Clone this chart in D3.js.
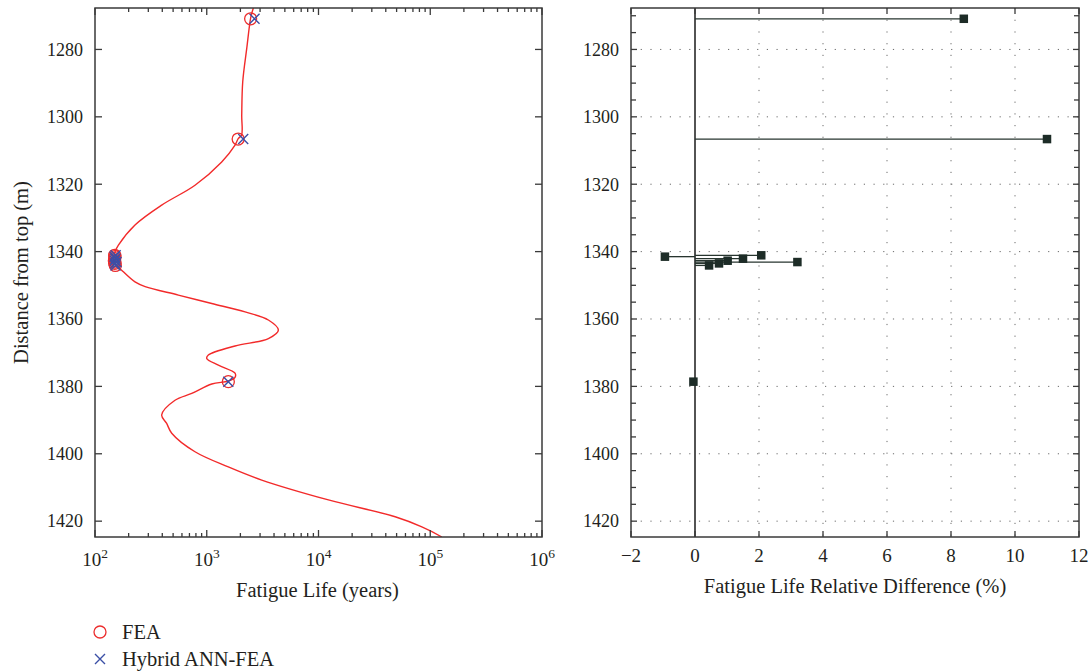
<!DOCTYPE html>
<html>
<head>
<meta charset="utf-8">
<script src="https://cdn.jsdelivr.net/npm/d3@7"></script>
<style>
  html, body { margin: 0; padding: 0; background: #fff; }
  svg text { font-family: "Liberation Serif", "Times New Roman", serif; fill: #231f20; }
</style>
</head>
<body>
<svg id="chart" width="1092" height="671"></svg>
<script>
// FEA fatigue-life profile along the riser (depth in m, life in years)
const curveDepth = [1267.7, 1270.5, 1279.7, 1289.6, 1299.5, 1305.4, 1306.4, 1308.4, 1313.4, 1320.3,
  1326.2, 1332.1, 1338.1, 1340.1, 1343.5, 1345.5, 1349.0, 1350.4, 1352.9, 1355.4,
  1357.9, 1360.3, 1363.3, 1365.8, 1368.0, 1370.7, 1371.7, 1373.7, 1376.1, 1377.3,
  1378.4, 1379.3, 1382.1, 1384.1, 1388.5, 1391.0, 1393.9, 1399.4, 1403.9, 1407.8,
  1413.7, 1418.7, 1421.7, 1424.7];
const curveLife = [2612, 2477, 2280, 2099, 2056, 2050, 1919, 1791, 1361, 785,
  395, 228, 162, 151, 151, 173, 228, 281, 557, 1109,
  2203, 3560, 4375, 3560, 1791, 1033, 1000, 1271, 1791, 1791,
  1560, 1109, 734, 520, 395, 438, 486, 785, 1560, 3105,
  12270, 48530, 84100, 127000];

// Sampled locations: FEA vs hybrid ANN-FEA
const sampleDepth = [1270.9, 1306.6, 1341.1, 1341.5, 1342.1, 1342.7, 1343.1, 1343.5, 1344.1, 1378.6];
const lifeFEA     = [2470, 1910, 150, 151, 150, 149, 151, 150, 152, 1560];
const lifeHybrid  = [2677, 2120, 153.1, 149.6, 152.3, 150.5, 155.8, 151.1, 152.7, 1559];
const relDiff     = [8.4, 11.0, 2.07, -0.94, 1.5, 1.02, 3.2, 0.75, 0.44, -0.05];

// Axis ticks
const depthTicks = [1280, 1300, 1320, 1340, 1360, 1380, 1400, 1420];
const depthMinorTicks = d3.range(1270, 1425, 5);
const lifeDecades = [2, 3, 4, 5, 6];
const diffTicks = [-2, 0, 2, 4, 6, 8, 10, 12];

const svg = d3.select("#chart");
const yTop = 8, yBot = 537;
const L = { x0: 95, x1: 542 };
const R = { x0: 631, x1: 1079 };
const frameColor = "#3a3a3a";
const fontSize = 18;
const titleSize = 20.5;

const y = d3.scaleLinear().domain([1267.7, 1424.7]).range([yTop, yBot]);
const xLog = d3.scaleLog().domain([1e2, 1e6]).range([L.x0, L.x1]);
const xDiff = d3.scaleLinear().domain([-2, 12]).range([R.x0, R.x1]);

// ---------- Left panel: fatigue life ----------
const left = svg.append("g");

const lineGen = d3.line()
  .x((d, i) => xLog(curveLife[i]))
  .y(d => y(d))
  .curve(d3.curveCatmullRom.alpha(0.5));

left.append("defs").append("clipPath").attr("id", "clipL")
  .append("rect").attr("x", L.x0).attr("y", yTop).attr("width", L.x1 - L.x0).attr("height", yBot - yTop);

left.append("path")
  .datum(curveDepth)
  .attr("clip-path", "url(#clipL)")
  .attr("d", lineGen)
  .attr("fill", "none")
  .attr("stroke", "#f22a2a")
  .attr("stroke-width", 1.4);

// FEA circles
left.selectAll("circle.fea").data(sampleDepth).join("circle")
  .attr("class", "fea")
  .attr("cx", (d, i) => xLog(lifeFEA[i]))
  .attr("cy", d => y(d))
  .attr("r", 6)
  .attr("fill", "none")
  .attr("stroke", "#ec2d2d")
  .attr("stroke-width", 1.3);

// Hybrid crosses
const cross = (g, cx, cy, s) => {
  g.append("path")
    .attr("d", `M${cx - s},${cy - s}L${cx + s},${cy + s}M${cx - s},${cy + s}L${cx + s},${cy - s}`)
    .attr("stroke", "#3b4fa6").attr("stroke-width", 1.4).attr("fill", "none");
};
sampleDepth.forEach((d, i) => cross(left, xLog(lifeHybrid[i]), y(d), 5));

// Frame and ticks (left)
function frame(g, x0, x1) {
  g.append("rect").attr("x", x0).attr("y", yTop).attr("width", x1 - x0).attr("height", yBot - yTop)
    .attr("fill", "none").attr("stroke", frameColor).attr("stroke-width", 1.5);
}
frame(left, L.x0, L.x1);

const tk = (g, x1_, y1_, x2_, y2_) => g.append("line")
  .attr("x1", x1_).attr("y1", y1_).attr("x2", x2_).attr("y2", y2_)
  .attr("stroke", frameColor).attr("stroke-width", 1.3);

// log x ticks
lifeDecades.forEach(e => {
  const xv = xLog(Math.pow(10, e));
  tk(left, xv, yBot, xv, yBot - 7);
  tk(left, xv, yTop, xv, yTop + 7);
  if (e < 6) {
    for (let m = 2; m <= 9; m++) {
      const xm = xLog(m * Math.pow(10, e));
      tk(left, xm, yBot, xm, yBot - 4);
      tk(left, xm, yTop, xm, yTop + 4);
    }
  }
  const t = left.append("text")
    .attr("x", xv).attr("y", 566)
    .attr("text-anchor", "middle")
    .attr("font-size", 19);
  t.append("tspan").text("10");
  t.append("tspan").text(e).attr("font-size", 13.5).attr("dy", -8);
});

depthTicks.forEach(d => {
  tk(left, L.x0, y(d), L.x0 + 7, y(d));
  tk(left, L.x1, y(d), L.x1 - 7, y(d));
  left.append("text").attr("x", L.x0 - 12).attr("y", y(d)).attr("dy", "0.35em")
    .attr("text-anchor", "end").attr("font-size", fontSize).text(d);
});

left.append("text").attr("x", (L.x0 + L.x1) / 2 - 1).attr("y", 597)
  .attr("text-anchor", "middle").attr("font-size", titleSize).text("Fatigue Life (years)");

left.append("text")
  .attr("transform", `translate(28,${(yTop + yBot) / 2}) rotate(-90)`)
  .attr("text-anchor", "middle").attr("font-size", titleSize).text("Distance from top (m)");

// ---------- Right panel: relative difference ----------
const right = svg.append("g");

// dotted grid
diffTicks.filter(v => v !== 0 && v !== -2 && v !== 12).forEach(v => {
  right.append("line").attr("x1", xDiff(v)).attr("x2", xDiff(v)).attr("y1", yTop).attr("y2", yBot)
    .attr("stroke", "#6a6a6a").attr("stroke-width", 1).attr("stroke-dasharray", "1.2,10.5");
});
depthTicks.forEach(d => {
  right.append("line").attr("x1", R.x0).attr("x2", R.x1).attr("y1", y(d)).attr("y2", y(d))
    .attr("stroke", "#6a6a6a").attr("stroke-width", 1).attr("stroke-dasharray", "1.2,8.5");
});

// zero baseline
right.append("line").attr("x1", xDiff(0)).attr("x2", xDiff(0)).attr("y1", yTop).attr("y2", yBot)
  .attr("stroke", "#1a1a1a").attr("stroke-width", 1.5);

// stems
right.selectAll("line.stem").data(sampleDepth).join("line")
  .attr("class", "stem")
  .attr("x1", xDiff(0)).attr("x2", (d, i) => xDiff(relDiff[i]))
  .attr("y1", d => y(d)).attr("y2", d => y(d))
  .attr("stroke", "#27352f").attr("stroke-width", 1.3);

// square markers
const sq = 8.5;
right.selectAll("rect.mk").data(sampleDepth).join("rect")
  .attr("class", "mk")
  .attr("x", (d, i) => xDiff(relDiff[i]) - sq / 2)
  .attr("y", d => y(d) - sq / 2)
  .attr("width", sq).attr("height", sq)
  .attr("fill", "#1d2c27");

frame(right, R.x0, R.x1);

diffTicks.forEach(v => {
  const xv = xDiff(v);
  tk(right, xv, yBot, xv, yBot - 6);
  tk(right, xv, yTop, xv, yTop + 6);
  right.append("text").attr("x", xv).attr("y", 562)
    .attr("text-anchor", "middle").attr("font-size", 19)
    .text(v < 0 ? "\u2212" + Math.abs(v) : v);
});

depthMinorTicks.forEach(d => {
  const len = depthTicks.includes(d) ? 6 : 5;
  tk(right, R.x0, y(d), R.x0 + len, y(d));
  tk(right, R.x1, y(d), R.x1 - len, y(d));
});
depthTicks.forEach(d => {
  right.append("text").attr("x", R.x0 - 12).attr("y", y(d)).attr("dy", "0.35em")
    .attr("text-anchor", "end").attr("font-size", fontSize).text(d);
});

right.append("text").attr("x", (R.x0 + R.x1) / 2).attr("y", 593)
  .attr("text-anchor", "middle").attr("font-size", titleSize).text("Fatigue Life Relative Difference (%)");

// ---------- Legend ----------
const legend = svg.append("g");
legend.append("circle").attr("cx", 100).attr("cy", 632).attr("r", 6)
  .attr("fill", "none").attr("stroke", "#ec2d2d").attr("stroke-width", 1.3);
legend.append("text").attr("x", 122).attr("y", 632).attr("dy", "0.35em")
  .attr("font-size", titleSize).text("FEA");
cross(legend, 100, 659, 5);
legend.append("text").attr("x", 122).attr("y", 659).attr("dy", "0.35em")
  .attr("font-size", titleSize).text("Hybrid ANN-FEA");
</script>
</body>
</html>
